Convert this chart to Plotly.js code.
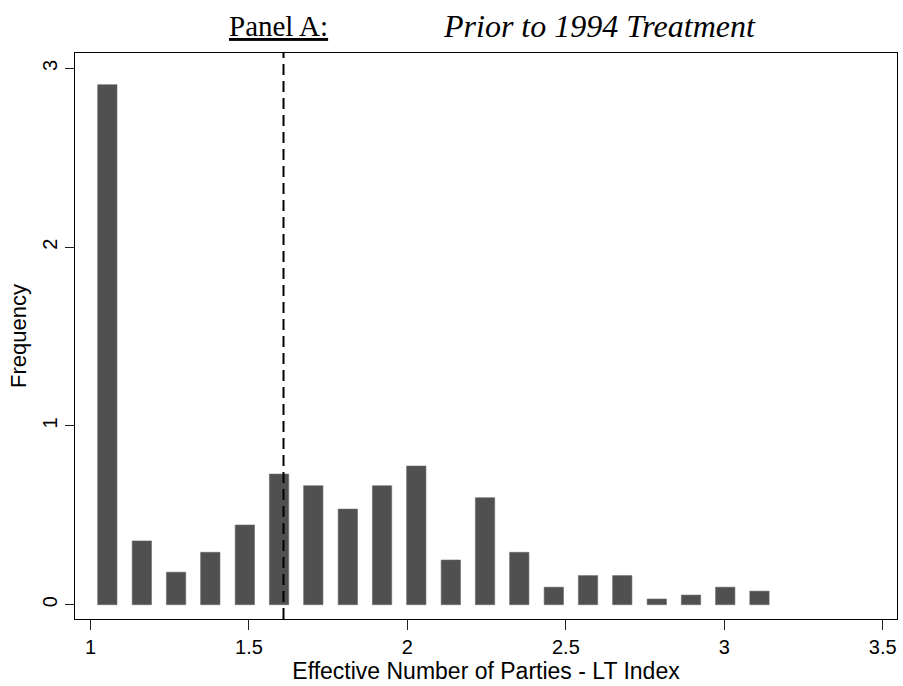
<!DOCTYPE html>
<html>
<head>
<meta charset="utf-8">
<script src="https://cdn.plot.ly/plotly-3.0.1.min.js"></script>
<style>html,body{margin:0;padding:0;background:#fff;}#chart{width:903px;height:686px;}</style>
</head>
<body>
<div id="chart"></div>
<script>
// Bin midpoints (Effective Number of Parties - LT Index)
const binCenters = [1.053, 1.162, 1.270, 1.378, 1.487, 1.595, 1.703, 1.812, 1.920, 2.028,
                    2.137, 2.245, 2.353, 2.462, 2.570, 2.678, 2.787, 2.895, 3.003, 3.111];
// Frequency (density) values
const frequencies = [2.91, 0.357, 0.182, 0.293, 0.446, 0.731, 0.666, 0.535, 0.666, 0.776,
                     0.250, 0.599, 0.293, 0.098, 0.163, 0.163, 0.032, 0.054, 0.098, 0.076];
const meanLine = 1.609;
const xTickVals = [1, 1.5, 2, 2.5, 3, 3.5];
const xTickText = ["1", "1.5", "2", "2.5", "3", "3.5"];
const yTickVals = [0, 1, 2, 3];
const yTickText = ["0", "1", "2", "3"];

const trace = {
  type: 'bar',
  x: binCenters,
  y: frequencies,
  width: 0.061,
  marker: {color: '#505050', line: {color: '#6a6a6a', width: 0.6}},
  hoverinfo: 'x+y'
};

const sans = 'Liberation Sans, Arial, Helvetica, sans-serif';
const tickFont = {family: sans, size: 20, color: '#000'};
const xTitleFont = {family: sans, size: 23, color: '#000'};
const yTitleFont = {family: sans, size: 22, color: '#000'};
const serif = 'Liberation Serif, Times New Roman, serif';

const layout = {
  width: 903, height: 686,
  margin: {l: 75, r: 6, t: 53, b: 67},
  paper_bgcolor: '#fff', plot_bgcolor: '#fff',
  showlegend: false,
  bargap: 0,
  font: tickFont,
  xaxis: {
    range: [0.951, 3.545],
    tickvals: xTickVals, ticktext: xTickText,
    ticks: 'outside', ticklen: 10, tickcolor: '#222', tickwidth: 1,
    showline: true, linecolor: '#000', linewidth: 1, mirror: true,
    showgrid: false, zeroline: false,
    tickfont: tickFont,
    title: {text: 'Effective Number of Parties - LT Index', font: xTitleFont, standoff: 0}
  },
  yaxis: {
    range: [-0.080, 3.087],
    tickvals: yTickVals, ticktext: yTickText, tickangle: -90,
    ticks: 'outside', ticklen: 9, tickcolor: '#222', tickwidth: 1,
    showline: true, linecolor: '#000', linewidth: 1, mirror: true,
    showgrid: false, zeroline: false,
    tickfont: tickFont,
    title: {text: 'Frequency', font: yTitleFont, standoff: 6}
  },
  shapes: [{
    type: 'line', xref: 'x', yref: 'paper',
    x0: meanLine, x1: meanLine, y0: 0, y1: 1,
    line: {color: '#000', width: 2, dash: '11px,6px'}
  }],
  annotations: [
    {text: '<span style="text-decoration:underline">Panel A:</span>', xref: 'paper', yref: 'paper',
     x: 0.185, y: 1.048, xanchor: 'left', yanchor: 'middle', showarrow: false,
     font: {family: serif, size: 29, color: '#000'}},
    {text: '<i>Prior to 1994 Treatment</i>', xref: 'paper', yref: 'paper',
     x: 0.445, y: 1.048, xanchor: 'left', yanchor: 'middle', showarrow: false,
     font: {family: serif, size: 32, color: '#000'}}
  ]
};

Plotly.newPlot('chart', [trace], layout, {displayModeBar: false, staticPlot: true});
</script>
</body>
</html>
